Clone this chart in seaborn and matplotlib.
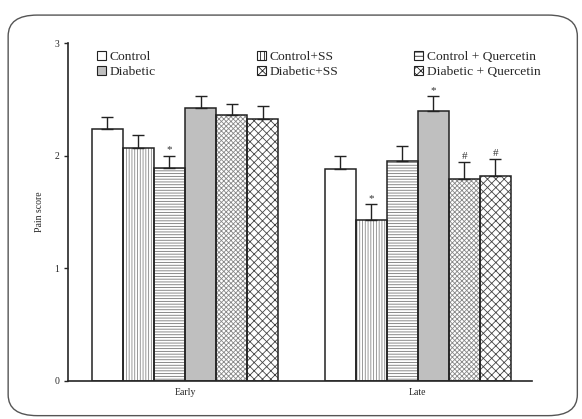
import numpy as np
import pandas as pd
import seaborn as sns
import matplotlib.pyplot as plt
from matplotlib.patches import FancyBboxPatch, Patch, Rectangle

# Data
phases = ['Early', 'Late']
groups = ['Control', 'Control+SS', 'Control + Quercetin',
          'Diabetic', 'Diabetic+SS', 'Diabetic + Quercetin']
early_mean = [2.24, 2.07, 1.89, 2.42, 2.36, 2.33]
late_mean = [1.88, 1.43, 1.95, 2.40, 1.79, 1.82]
early_err = [0.10, 0.11, 0.11, 0.11, 0.10, 0.11]
late_err = [0.12, 0.14, 0.14, 0.13, 0.15, 0.15]
early_mark = ['', '', '*', '', '', '']
late_mark = ['', '*', '', '*', '#', '#']

hatches = ['', '||||||', '------', '', 'xxxxxxx', 'xxxx']
hatch_cols = ['#222222', '#888888', '#777777', '#222222', '#888888', '#444444']
fills = ['white', 'white', 'white', '#bfbfbf', 'white', 'white']

df = pd.DataFrame({
    'phase': np.repeat(phases, len(groups)),
    'group': groups * 2,
    'score': early_mean + late_mean,
})

sns.set_style('ticks')
plt.rcParams['font.family'] = ['Liberation Serif', 'DejaVu Serif']
plt.rcParams['hatch.linewidth'] = 0.6

fig = plt.figure(figsize=(5.82, 4.19), dpi=100)
ax = fig.add_axes([0.117, 0.091, 0.797, 0.806])

sns.barplot(data=df, x='phase', y='score', hue='group', hue_order=groups,
            order=phases, errorbar=None, width=0.8, ax=ax, legend=False,
            palette=fills, edgecolor='#222222', linewidth=1.0)

errs = early_err + late_err
marks = early_mark + late_mark
means = early_mean + late_mean
# seaborn adds patches hue by hue, each across phases
bar_groups = list(ax.containers)
handles = []
for gi, cont in enumerate(bar_groups):
    for pi, bar in enumerate(cont):
        bar.set_facecolor(fills[gi])
        bar.set_edgecolor(hatch_cols[gi])
        bar.set_linewidth(0)
        bar.set_hatch(hatches[gi])
        # dark outline on top of the lighter hatch
        ax.add_patch(Rectangle((bar.get_x(), bar.get_y()), bar.get_width(),
                               bar.get_height(), fill=False,
                               edgecolor='#222222', linewidth=1.1, zorder=bar.get_zorder() + 0.1))
        idx = pi * len(groups) + gi
        xc = bar.get_x() + bar.get_width() / 2
        ax.errorbar(xc, means[idx], yerr=[[0], [errs[idx]]], fmt='none',
                    ecolor='#222222', elinewidth=1.0, capsize=4, capthick=1.0)
        if marks[idx]:
            ax.text(xc, means[idx] + errs[idx] + 0.01, marks[idx], ha='center',
                    va='bottom', fontsize=8, color='#333333')
    handles.append(Patch(facecolor=fills[gi], hatch=hatches[gi][:4],
                         edgecolor='#222222', linewidth=0.8, label=groups[gi]))

# three legend blocks, each with two rows
col_x = [0.062, 0.407, 0.746]
for ci in range(3):
    pair = [ci, ci + 3]
    leg = ax.legend([handles[i] for i in pair], [groups[i] for i in pair],
                    loc='upper left', bbox_to_anchor=(col_x[ci], 0.976), frameon=False,
                    fontsize=9.7, handlelength=0.65, handleheight=0.65,
                    handletextpad=0.3, labelspacing=0.2, borderpad=0,
                    borderaxespad=0)
    if ci < 2:
        ax.add_artist(leg)

ax.set_xlim(-0.502, 1.49)
ax.set_ylim(0, 3)
ax.set_yticks([0, 1, 2, 3])
ax.set_xlabel('')
ax.set_ylabel('Pain score', fontsize=7, labelpad=7)
ax.tick_params(axis='y', labelsize=7, direction='out', length=3, width=1)
ax.tick_params(axis='x', labelsize=7, length=0, pad=5)
sns.despine(ax=ax)
ax.spines['left'].set_linewidth(1.2)
ax.spines['bottom'].set_linewidth(1.2)

border = FancyBboxPatch((0.014, 0.008), 0.978, 0.956,
                        boxstyle='round,pad=0,rounding_size=0.05',
                        transform=fig.transFigure, facecolor='none',
                        edgecolor='#555555', linewidth=1.0)
fig.patches.append(border)

fig.savefig('out.png', dpi=100)
